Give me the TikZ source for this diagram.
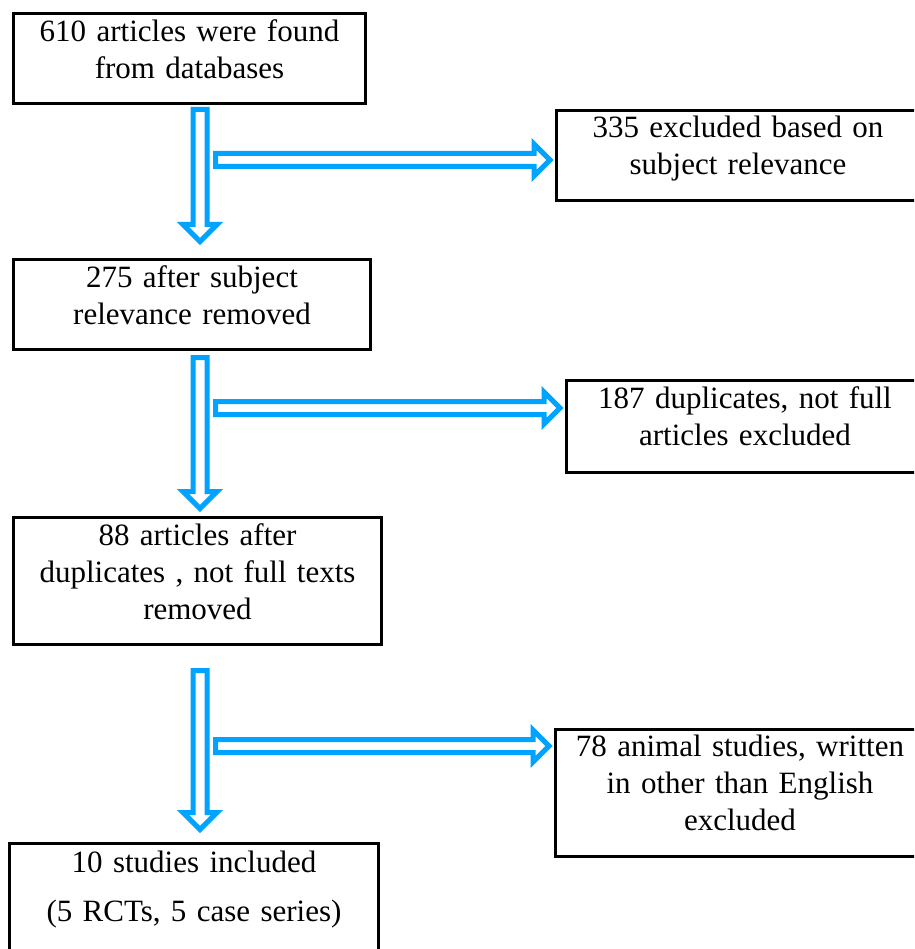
\documentclass[tikz,border=0pt]{standalone}
\usepackage{fontspec}
\setmainfont{Liberation Serif}
\usetikzlibrary{calc, positioning}

\definecolor{flowblue}{RGB}{0,163,255}

% hollow block arrows
\newcommand{\downblock}[2]{%
  \draw[blockarrow] let \p1=(#1), \p2=(#2) in
    (\x1-7pt,\y1) -- (\x1+7pt,\y1) -- (\x1+7pt,\y2+17pt) -- (\x1+17pt,\y2+17pt)
    -- (\x1,\y2) -- (\x1-17pt,\y2+17pt) -- (\x1-7pt,\y2+17pt) -- cycle;}
\newcommand{\rightblock}[2]{%
  \draw[blockarrow] let \p1=(#1), \p2=(#2) in
    (\x1,\y1+6.5pt) -- (\x2-16pt,\y1+6.5pt) -- (\x2-16pt,\y1+16pt) -- (\x2,\y1)
    -- (\x2-16pt,\y1-16pt) -- (\x2-16pt,\y1-6.5pt) -- (\x1,\y1-6.5pt) -- cycle;}

\begin{document}
\begin{tikzpicture}[x=1pt, y=-1pt,
  box/.style={draw, line width=3pt, inner sep=0pt, align=center, anchor=north,
    font=\fontsize{31}{37}\selectfont},
  blockarrow/.style={draw=flowblue, line width=5pt, fill=white, miter limit=10}]
\clip (0,0) rectangle (914,949);

% left column
\node[box, text width=352pt, text height=27.5pt, text depth=62.5pt] (found) at (189.5,12.5)
  {610 articles were found\\from databases};
\node[box, text width=357pt, text height=27.5pt, text depth=61.5pt] (relevance) at (192,258.5)
  {275 after subject\\relevance removed};
\node[box, text width=368pt, text height=28.5pt, text depth=98.5pt] (afterdup) at (197.5,515.5)
  {88 articles after\\duplicates , not full texts\\removed};
\node[box, text width=369pt, text height=29.5pt, text depth=150pt,
  font=\fontsize{31}{49}\selectfont] (included) at (194,841.5)
  {10 studies included\\(5 RCTs, 5 case series)};

% right column
\node[box, text width=363pt, text height=26.5pt, text depth=63.5pt] (relexcl) at (738,109.5)
  {335 excluded based on\\subject relevance};
\node[box, text width=357pt, text height=27.5pt, text depth=64pt] (dupexcl) at (745,379)
  {187 duplicates, not full\\articles excluded};
\node[box, text width=369pt, text height=27.5pt, text depth=99.5pt] (langexcl) at (740,727.5)
  {78 animal studies, written\\in other than English\\excluded};

% arrows
\coordinate (axis) at (200,0);
\coordinate (j1) at (215.5,160);
\coordinate (j2) at (215.5,408);
\coordinate (j3) at (215.5,746);

\downblock{$(axis |- found.south)+(0,4)$}{$(axis |- relevance.north)+(0,-17)$}
\downblock{$(axis |- relevance.south)+(0,7)$}{$(axis |- afterdup.north)+(0,-7)$}
\downblock{$(axis |- afterdup.south)+(0,25)$}{$(axis |- included.north)+(0,-12)$}

\rightblock{j1}{$(j1 -| relexcl.west)+(-5,0)$}
\rightblock{j2}{$(j2 -| dupexcl.west)+(-5,0)$}
\rightblock{j3}{$(j3 -| langexcl.west)+(-5,0)$}
\end{tikzpicture}
\end{document}
